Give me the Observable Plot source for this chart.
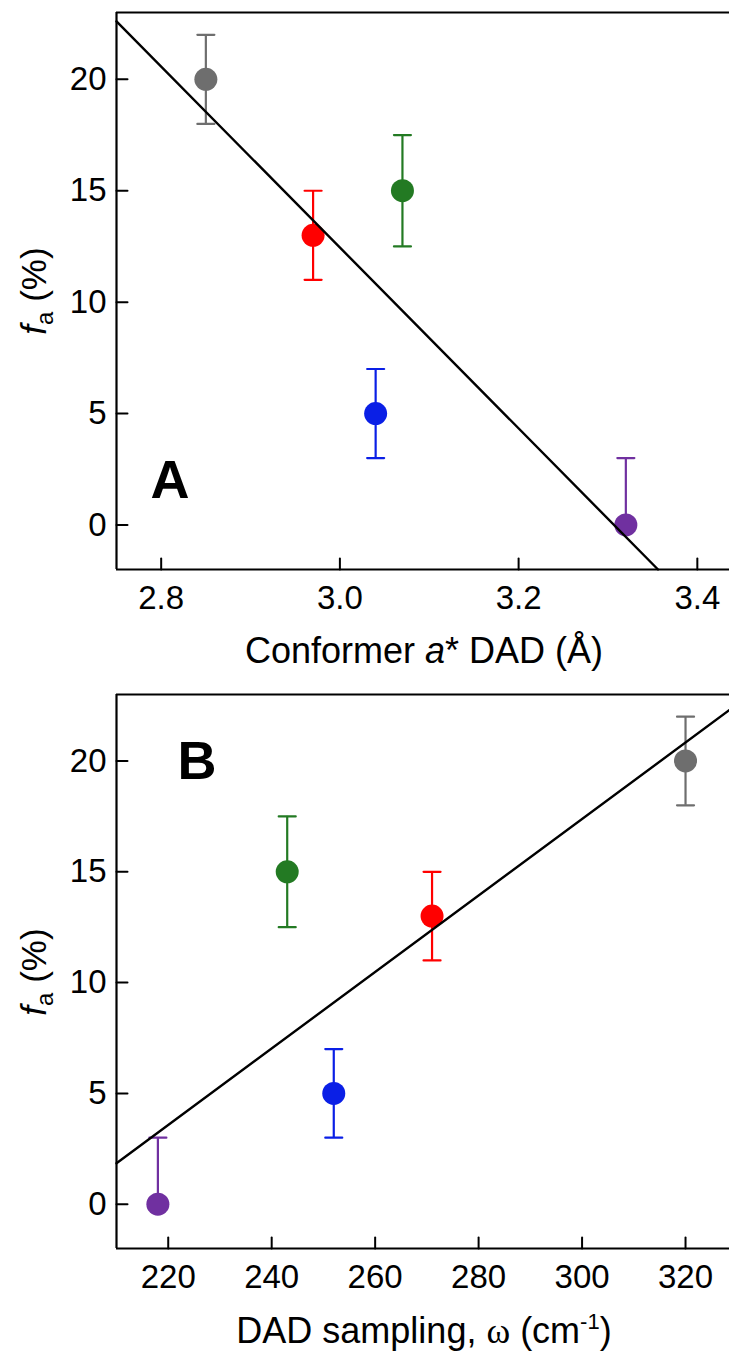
<!DOCTYPE html>
<html>
<head>
<meta charset="utf-8">
<script src="https://cdn.jsdelivr.net/npm/d3@7"></script>
<script src="https://cdn.jsdelivr.net/npm/@observablehq/plot@0.6"></script>
<style>
  html, body { margin: 0; padding: 0; background: #fff; }
  #chart { width: 729px; }
  #chart svg { display: block; }
</style>
</head>
<body>
<div id="chart"></div>
<script>
// ---- data ----
const colors = ["#6e6e6e", "#ff0000", "#237a23", "#0a1fe6", "#7030a0"];
const names = ["gray", "red", "green", "blue", "purple"];
const fa = [20, 13, 15, 5, 0];
const faLow = [18, 11, 12.5, 3, 0];
const faHigh = [22, 15, 17.5, 7, 3];
const dadA = [2.85, 2.97, 3.07, 3.04, 3.32];      // panel A x (Å)
const omegaB = [320, 271, 243, 252, 218];          // panel B x (cm-1)
const fitAx = [2.75, 3.356];
const fitAy = [22.6, -2];
const fitBx = [210, 328.5];
const fitBy = [1.85, 22.3];
const ticksAx = [2.8, 3.0, 3.2, 3.4];
const ticksBx = [220, 240, 260, 280, 300, 320];
const ticksY = [0, 5, 10, 15, 20];
const domainAx = [2.75, 3.436];
const domainBx = [210, 328.5];
const domainY = [-2, 23];

const FONT = "Liberation Sans, Arial, sans-serif";
const tickShape = {draw(ctx, l) { ctx.moveTo(0, 0); ctx.lineTo(0, -l); }};
const capShape = {draw(ctx, l) { ctx.moveTo(0, 0); ctx.lineTo(0, -l); }};

function panel({xs, xDomain, xTicks, fmt, fitX, fitY, height, marginTop, marginBottom, letter, letterDx, letterDy, letterAnchor}) {
  const pts = xs.map((x, i) => ({x, y: fa[i], lo: faLow[i], hi: faHigh[i], c: colors[i], n: names[i]}));
  const fit = fitX.map((x, i) => ({x, y: fitY[i]}));
  return Plot.plot({
    width: 729,
    height,
    marginLeft: 116,
    marginRight: 0,
    marginTop,
    marginBottom,
    style: {fontFamily: FONT, fontSize: "33px", color: "black", background: "white", overflow: "visible"},
    x: {domain: xDomain, label: null},
    y: {domain: domainY, label: null},
    marks: [
      // frame (left, bottom, top)
      Plot.ruleX([xDomain[0]], {stroke: "black", strokeWidth: 2.2}),
      Plot.ruleY([domainY[0], domainY[1]], {stroke: "black", strokeWidth: 2.2}),
      // inner ticks
      Plot.vector(xTicks, {x: d => d, y: domainY[0], length: 11, rotate: 0, anchor: "start", shape: tickShape, stroke: "black", strokeWidth: 2}),
      Plot.vector(ticksY, {x: xDomain[0], y: d => d, length: 11, rotate: 90, anchor: "start", shape: tickShape, stroke: "black", strokeWidth: 2}),
      Plot.axisX({ticks: xTicks, tickSize: 0, tickPadding: 16, tickFormat: fmt, fontSize: 33, fontFamily: FONT}),
      Plot.axisY({ticks: ticksY, tickSize: 0, tickPadding: 10, fontSize: 33, fontFamily: FONT}),
      // error bars
      Plot.ruleX(pts, {x: "x", y1: "lo", y2: "hi", stroke: "c", strokeWidth: 2.2}),
      Plot.vector(pts, {x: "x", y: "hi", length: 17, rotate: 90, anchor: "middle", shape: capShape, stroke: "c", strokeWidth: 2.2}),
      Plot.vector(pts.filter(d => d.lo < d.y), {x: "x", y: "lo", length: 17, rotate: 90, anchor: "middle", shape: capShape, stroke: "c", strokeWidth: 2.2}),
      // points
      Plot.dot(pts, {x: "x", y: "y", r: 11.5, fill: "c", stroke: "none"}),
      // fit line
      Plot.line(fit, {x: "x", y: "y", stroke: "black", strokeWidth: 2.4}),
      // panel letter
      Plot.text([letter], {frameAnchor: letterAnchor, textAnchor: "start", dx: letterDx, dy: letterDy, text: d => d, fontSize: 54, fontWeight: "bold", fontFamily: FONT, fill: "black"})
    ]
  });
}

const chart = document.getElementById("chart");

const svgA = panel({
  xs: dadA, xDomain: domainAx, xTicks: ticksAx, fmt: d => d.toFixed(1),
  fitX: fitAx, fitY: fitAy, height: 680, marginTop: 12, marginBottom: 111,
  letter: "A", letterDx: 34, letterDy: -72, letterAnchor: "bottom-left"
});
const svgB = panel({
  xs: omegaB, xDomain: domainBx, xTicks: ticksBx, fmt: d => String(d),
  fitX: fitBx, fitY: fitBy, height: 675, marginTop: 14, marginBottom: 107,
  letter: "B", letterDx: 61, letterDy: 46, letterAnchor: "top-left"
});
chart.appendChild(svgA);
chart.appendChild(svgB);

function yTitle(svg, cy) {
  const t = d3.select(svg).append("text")
    .attr("transform", `translate(46,${cy}) rotate(-90)`)
    .attr("text-anchor", "middle")
    .attr("font-family", FONT).attr("font-size", 35).attr("fill", "black");
  t.append("tspan").attr("font-style", "italic").text("f");
  t.append("tspan").attr("font-size", 24).attr("dy", 7).text("a");
  t.append("tspan").attr("dy", -7).text(" (%)");
}
yTitle(svgA, 291);
yTitle(svgB, 292);

const tA = d3.select(svgA).append("text")
  .attr("x", 424).attr("y", 663).attr("text-anchor", "middle")
  .attr("font-family", FONT).attr("font-size", 36).attr("fill", "black");
tA.append("tspan").text("Conformer ");
tA.append("tspan").attr("font-style", "italic").text("a");
tA.append("tspan").text("* DAD (Å)");

const tB = d3.select(svgB).append("text")
  .attr("x", 424).attr("y", 663).attr("text-anchor", "middle")
  .attr("font-family", FONT).attr("font-size", 36).attr("fill", "black");
tB.append("tspan").text("DAD sampling, ");
tB.append("tspan").attr("font-family", "Liberation Serif, serif").text("ω");
tB.append("tspan").text(" (cm");
tB.append("tspan").attr("font-size", 22).attr("dy", -14).text("-1");
tB.append("tspan").attr("dy", 14).text(")");
</script>
</body>
</html>
